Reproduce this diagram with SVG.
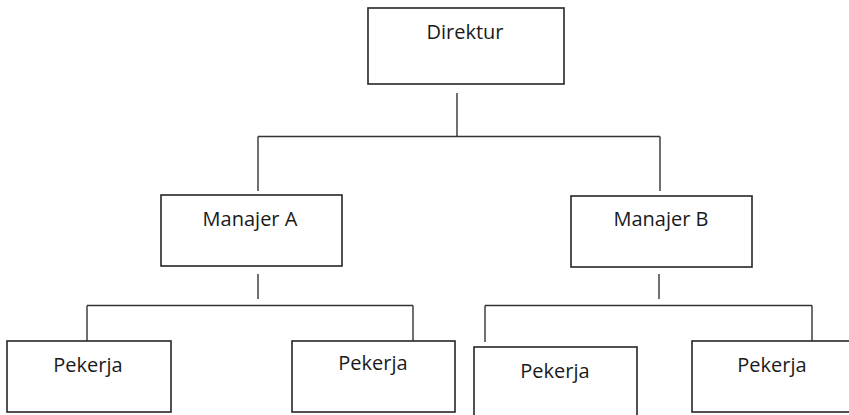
<svg xmlns="http://www.w3.org/2000/svg" width="849" height="415" viewBox="0 0 849 415">
  <style>
    .box { fill: #ffffff; stroke: #262626; stroke-width: 1.6; }
    .link { fill: none; stroke: #333333; stroke-width: 1.4; }
    .label { font-family: "Open Sans", "Noto Sans", "Liberation Sans", sans-serif; font-size: 20px; fill: #1a1a1a; text-anchor: middle; }
  </style>
  <rect width="849" height="415" fill="#ffffff"/>

  <!-- connectors -->
  <g id="connectors">
    <path class="link" d="M457,93 V136"/>
    <path class="link" d="M258,136.5 H660"/>
    <path class="link" d="M258,136.5 V191"/>
    <path class="link" d="M660,136.5 V191"/>
    <path class="link" d="M258,274 V299"/>
    <path class="link" d="M87,305.5 H413"/>
    <path class="link" d="M87,305.5 V341"/>
    <path class="link" d="M413,305.5 V342"/>
    <path class="link" d="M659,274 V299"/>
    <path class="link" d="M485,305.5 H812"/>
    <path class="link" d="M485,305.5 V342"/>
    <path class="link" d="M812,305.5 V342"/>
  </g>

  <g id="direktur">
    <rect class="box" x="368" y="8" width="196" height="76"/>
    <text class="label" x="465" y="39">Direktur</text>
  </g>

  <g id="manajer-a">
    <rect class="box" x="161" y="195" width="181" height="71"/>
    <text class="label" x="250" y="226">Manajer A</text>
  </g>

  <g id="manajer-b">
    <rect class="box" x="571" y="196" width="181" height="71"/>
    <text class="label" x="661" y="226">Manajer B</text>
  </g>

  <g id="pekerja-1">
    <rect class="box" x="7" y="341" width="164" height="71"/>
    <text class="label" x="88" y="372">Pekerja</text>
  </g>

  <g id="pekerja-2">
    <rect class="box" x="292" y="341" width="163" height="71"/>
    <text class="label" x="373" y="370">Pekerja</text>
  </g>

  <g id="pekerja-3">
    <rect class="box" x="474" y="347" width="163" height="75"/>
    <text class="label" x="555" y="378">Pekerja</text>
  </g>

  <g id="pekerja-4">
    <rect class="box" x="692" y="341" width="164" height="71"/>
    <text class="label" x="772" y="372">Pekerja</text>
  </g>
</svg>
